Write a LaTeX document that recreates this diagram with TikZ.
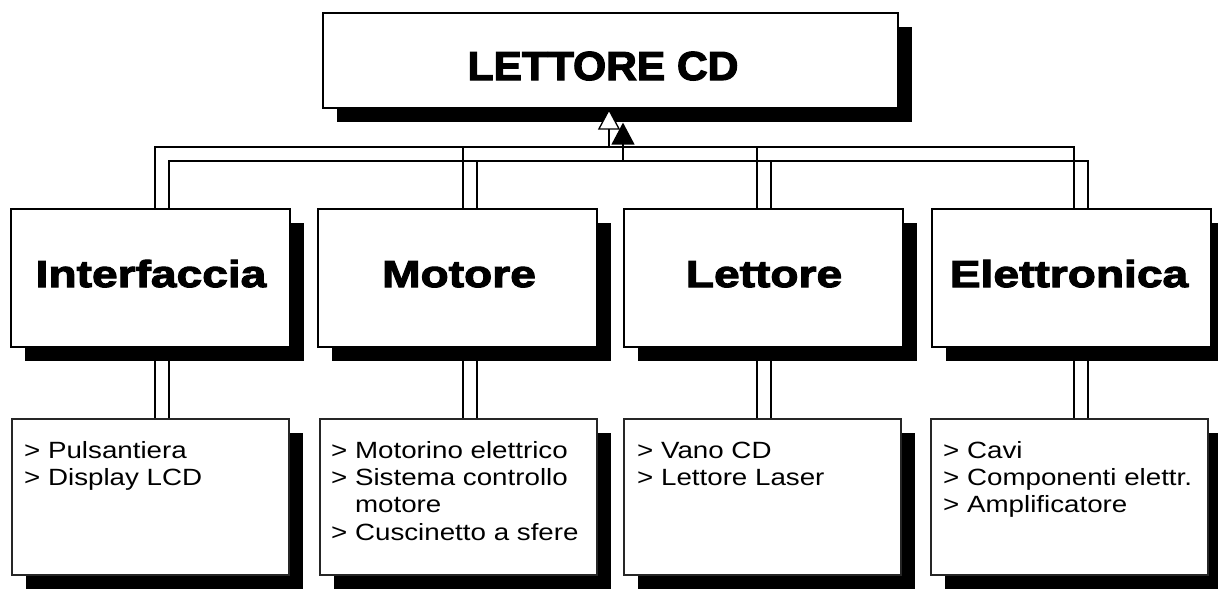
\documentclass[tikz,border=0pt]{standalone}
\usepackage{fontspec}
\setmainfont{Liberation Sans}
\newfontfamily\topfont[FakeStretch=1.05,BoldFeatures={FakeBold=3}]{Liberation Sans}
\newfontfamily\midfont[FakeStretch=1.23,BoldFeatures={FakeBold=3}]{Liberation Sans}
\newfontfamily\lowfont[FakeStretch=1.18]{Liberation Sans}
\usetikzlibrary{shadows,arrows.meta}
\pgfdeclarelayer{bg}
\pgfsetlayers{bg,main}
\tikzset{
  box/.style={draw=black, line width=1.6pt, fill=white, rectangle, inner sep=0pt,
    drop shadow={shadow xshift=14pt, shadow yshift=-14pt, fill=black, opacity=1}},
  topbox/.style={box, minimum width=575pt, minimum height=95pt, anchor=north west},
  lvltwo/.style={box, minimum width=279pt, minimum height=138pt, anchor=north west},
  lvlthree/.style={box, draw=black!85, minimum width=277pt, minimum height=156pt, anchor=north west},
  conn/.style={line width=1.3pt, black},
  toptext/.style={anchor=base, inner sep=0pt, font={\topfont\bfseries\fontsize{40.5pt}{48pt}\selectfont}},
  midtext/.style={anchor=base, inner sep=0pt, font={\midfont\bfseries\fontsize{37.5pt}{44pt}\selectfont}},
  lowtext/.style={anchor=base west, inner sep=0pt, font={\lowfont\fontsize{23.5pt}{27.4pt}\selectfont}},
}
\begin{document}
\begin{tikzpicture}[x=1pt,y=-1pt]
\useasboundingbox (0,0) rectangle (1218,590);
% boxes
\node[topbox] (top) at (322,12) {};
\node[lvltwo] (A) at (10,208) {};
\node[lvltwo] (B) at (317,208) {};
\node[lvltwo] (C) at (623,208) {};
\node[lvltwo] (D) at (931,208) {};
\node[lvlthree] (A3) at (11,418) {};
\node[lvlthree] (B3) at (319,418) {};
\node[lvlthree] (C3) at (623,418) {};
\node[lvlthree] (D3) at (930,418) {};
% texts
\node[toptext] (toptxt) at (603,80) {LETTORE CD};
\node[midtext] (Atxt) at (151,287) {Interfaccia};
\node[midtext] (Btxt) at (459,287) {Motore};
\node[midtext] (Ctxt) at (764,287) {Lettore};
\node[midtext] (Dtxt) at (1069,287) {Elettronica};
\node[lowtext] (A3txt) at (24,458) {\begin{tabular}[t]{@{}l@{}}> Pulsantiera\\> Display LCD\end{tabular}};
\node[lowtext] (B3txt) at (331,458) {\begin{tabular}[t]{@{}l@{}}> Motorino elettrico\\> Sistema controllo\\\hphantom{> }motore\\> Cuscinetto a sfere\end{tabular}};
\node[lowtext] (C3txt) at (637,458) {\begin{tabular}[t]{@{}l@{}}> Vano CD\\> Lettore Laser\end{tabular}};
\node[lowtext] (D3txt) at (943,458) {\begin{tabular}[t]{@{}l@{}}> Cavi\\> Componenti elettr.\\> Amplificatore\end{tabular}};
% bus coordinates
\coordinate (jA) at (609,147);
\coordinate (jB) at (623,161);
\coordinate (pA1) at (155,147); \coordinate (pA2) at (169,161);
\coordinate (pB1) at (463,147); \coordinate (pB2) at (477,161);
\coordinate (pC1) at (757,147); \coordinate (pC2) at (771,161);
\coordinate (pD1) at (1074,147); \coordinate (pD2) at (1088,161);
\coordinate (sh) at ([yshift=-14pt]top.south);
\begin{pgfonlayer}{bg}
  \draw[conn] (A.north -| pA1) -- (pA1) -- (pD1) -- (D.north -| pD1);
  \draw[conn] (A.north -| pA2) -- (pA2) -- (pD2) -- (D.north -| pD2);
  \draw[conn] (pB1) -- (B.north -| pB1);
  \draw[conn] (pB2) -- (B.north -| pB2);
  \draw[conn] (pC1) -- (C.north -| pC1);
  \draw[conn] (pC2) -- (C.north -| pC2);
  \draw[conn] (A.south -| pA1) -- (A3.north -| pA1);
  \draw[conn] (A.south -| pA2) -- (A3.north -| pA2);
  \draw[conn] (B.south -| pB1) -- (B3.north -| pB1);
  \draw[conn] (B.south -| pB2) -- (B3.north -| pB2);
  \draw[conn] (C.south -| pC1) -- (C3.north -| pC1);
  \draw[conn] (C.south -| pC2) -- (C3.north -| pC2);
  \draw[conn] (D.south -| pD1) -- (D3.north -| pD1);
  \draw[conn] (D.south -| pD2) -- (D3.north -| pD2);
\end{pgfonlayer}
% arrows to top
\draw[conn, -{Triangle[length=21pt,width=22pt,fill=white]}] (jA) -- (jA |- top.south);
\draw[conn, -{Triangle[length=22pt,width=23pt]}] (jB) -- (jB |- sh);
\end{tikzpicture}
\end{document}
